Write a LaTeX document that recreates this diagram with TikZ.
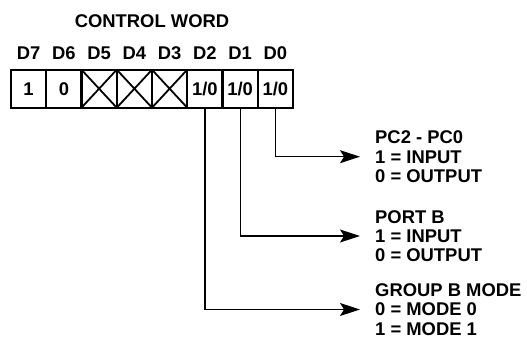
\documentclass[tikz,border=0pt]{standalone}
\usepackage{fontspec}
\setmainfont{Liberation Sans}
\usetikzlibrary{arrows.meta}
\begin{document}
\begin{tikzpicture}[
    x=1pt,y=1pt,
    >={Stealth[length=20pt,width=13pt,inset=4pt]},
    every node/.style={font=\fontsize{18.4}{19.2}\selectfont\bfseries},
    cell/.style={draw,line width=2.3pt,minimum width=35.25pt,minimum height=38pt,inner sep=0pt,outer sep=0pt},
    desc/.style={anchor=west,align=left,inner sep=0pt},
    link/.style={->,line width=1.2pt,shorten >=15pt}
]
\useasboundingbox (0,0) rectangle (527,-339);

\node (title) at (152,-21) {CONTROL WORD};

\node (d7) at (28.6,-53) {D7};
\node (d6) at (63.9,-53) {D6};
\node (d5) at (99.1,-53) {D5};
\node (d4) at (134.4,-53) {D4};
\node (d3) at (169.6,-53) {D3};
\node (d2) at (204.9,-53) {D2};
\node (d1) at (240.1,-53) {D1};
\node (d0) at (275.4,-53) {D0};

\node[cell] (w7) at (28.6,-88.7) {1};
\node[cell] (w6) at (63.9,-88.7) {0};
\node[cell] (w5) at (99.1,-88.7) {};
\node[cell] (w4) at (134.4,-88.7) {};
\node[cell] (w3) at (169.6,-88.7) {};
\node[cell] (w2) at (204.9,-88.7) {1/0};
\node[cell] (w1) at (240.1,-88.7) {1/0};
\node[cell] (w0) at (275.4,-88.7) {1/0};

% unused bits
\draw[line width=1.8pt] (w5.north west) -- (w5.south east) (w5.north east) -- (w5.south west);
\draw[line width=1.8pt] (w4.north west) -- (w4.south east) (w4.north east) -- (w4.south west);
\draw[line width=1.8pt] (w3.north west) -- (w3.south east) (w3.north east) -- (w3.south west);

\node[desc] (lab0) at (375,-156.7) {PC2 - PC0\\1 = INPUT\\0 = OUTPUT};
\node[desc] (lab1) at (375,-236) {PORT B\\1 = INPUT\\0 = OUTPUT};
\node[desc] (lab2) at (375,-309.5) {GROUP B MODE\\0 = MODE 0\\1 = MODE 1};

\draw[link] (w0.south) |- (lab0.west);
\draw[link] (w1.south) |- (lab1.west);
\draw[link] (w2.south) |- (lab2.west);
\end{tikzpicture}
\end{document}
